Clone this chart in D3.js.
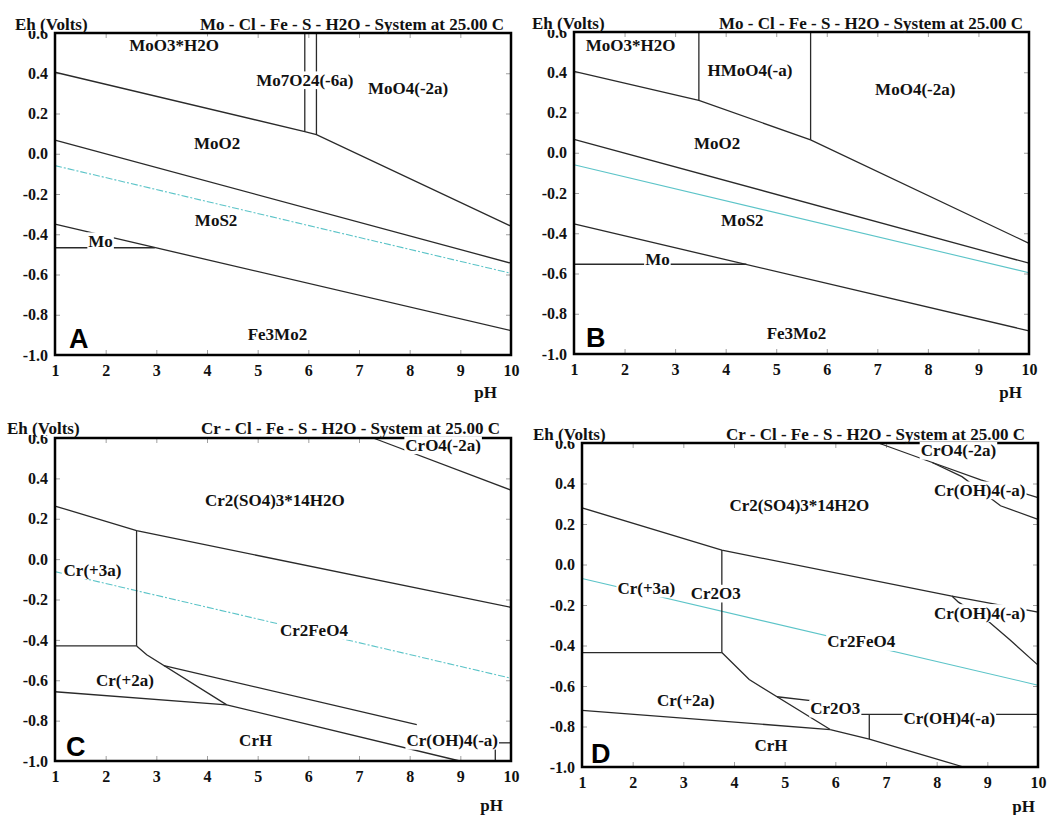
<!DOCTYPE html>
<html><head><meta charset="utf-8">
<script src="https://cdn.jsdelivr.net/npm/d3@7"></script>
<style>
html,body{margin:0;padding:0;background:#fff;}
svg{display:block;}
text{font-family:"Liberation Serif","Times New Roman",serif;font-weight:bold;fill:#111;}
</style></head><body>
<svg id="c" width="1049" height="815"></svg>
<script>
// ---------- shared axis values ----------
const pHTicks = [1,2,3,4,5,6,7,8,9,10];
const ehTicks = [0.6,0.4,0.2,0.0,-0.2,-0.4,-0.6,-0.8,-1.0];
const titleMo = "Mo - Cl - Fe - S - H2O - System at 25.00 C";
const titleCr = "Cr - Cl - Fe - S - H2O - System at 25.00 C";

// ---------- Panel A (Mo) ----------
const linesA = [
  [[1,0.405],[5.93,0.11],[6.16,0.095],[10,-0.36]],
  [[5.93,0.6],[5.93,0.11]],
  [[6.16,0.6],[6.16,0.095]],
  [[1,0.068],[10,-0.544]],
  [[1,-0.35],[10,-0.879]],
  [[1,-0.467],[2.97,-0.467]]
];
const waterA = [[1,-0.059],[10,-0.594]];
const labelsA = [
  ["MoO3*H2O",3.35,0.54],["Mo7O24(-6a)",5.93,0.366],["MoO4(-2a)",7.97,0.327],
  ["MoO2",4.2,0.05],["MoS2",4.18,-0.333],["Mo",1.9,-0.434],["Fe3Mo2",5.39,-0.896]
];

// ---------- Panel B (Mo) ----------
const linesB = [
  [[1,0.404],[3.47,0.26],[5.68,0.064],[10,-0.45]],
  [[3.47,0.6],[3.47,0.26]],
  [[5.68,0.6],[5.68,0.064]],
  [[1,0.067],[10,-0.549]],
  [[1,-0.354],[10,-0.885]],
  [[1,-0.554],[4.41,-0.554]]
];
const waterB = [[1,-0.06],[10,-0.596]];
const labelsB = [
  ["MoO3*H2O",2.12,0.532],["HMoO4(-a)",4.48,0.409],["MoO4(-2a)",7.75,0.316],
  ["MoO2",3.83,0.046],["MoS2",4.33,-0.337],["Mo",2.65,-0.528],["Fe3Mo2",5.40,-0.90]
];

// ---------- Panel C (Cr) ----------
const linesC = [
  [[7.28,0.6],[10,0.342]],
  [[1,0.263],[2.61,0.141],[10,-0.239]],
  [[2.61,0.141],[2.61,-0.43]],
  [[1,-0.43],[2.61,-0.43]],
  [[2.61,-0.43],[2.81,-0.474],[4.39,-0.722]],
  [[3.15,-0.527],[8.14,-0.82]],
  [[1,-0.657],[4.39,-0.722]],
  [[4.39,-0.722],[8.99,-1.0]],
  [[9.69,-0.91],[10,-0.91]],
  [[9.69,-0.91],[9.69,-1.0]]
];
const waterC = [[1,-0.062],[10,-0.59]];
const labelsC = [
  ["CrO4(-2a)",8.66,0.565],["Cr2(SO4)3*14H2O",5.34,0.293],["Cr(+3a)",1.74,-0.054],
  ["Cr2FeO4",6.11,-0.354],["Cr(+2a)",2.38,-0.602],["CrH",4.96,-0.896],["Cr(OH)4(-a)",8.84,-0.899]
];

// ---------- Panel D (Cr) ----------
const linesD = [
  [[6.85,0.6],[7.9,0.505]],
  [[7.9,0.505],[8.87,0.418],[10,0.33]],
  [[7.9,0.505],[8.5,0.434],[9.26,0.29],[10,0.223]],
  [[1,0.28],[3.76,0.071],[8.3,-0.156]],
  [[8.3,-0.156],[10,-0.235]],
  [[8.3,-0.156],[8.43,-0.186],[9.03,-0.283],[9.45,-0.373],[10,-0.497]],
  [[3.76,0.071],[3.76,-0.435]],
  [[1,-0.435],[3.76,-0.435]],
  [[3.76,-0.435],[4.30,-0.568],[5.90,-0.815]],
  [[4.85,-0.653],[5.6,-0.675]],
  [[6.45,-0.74],[10,-0.74]],
  [[6.67,-0.74],[6.67,-0.862]],
  [[1,-0.72],[5.90,-0.815]],
  [[5.90,-0.815],[6.67,-0.862],[8.53,-1.0]]
];
const waterD = [[1,-0.069],[10,-0.596]];
const labelsD = [
  ["CrO4(-2a)",8.43,0.562],["Cr(OH)4(-a)",8.85,0.367],["Cr2(SO4)3*14H2O",5.29,0.293],
  ["Cr(+3a)",2.27,-0.118],["Cr2O3",3.64,-0.143],["Cr(OH)4(-a)",8.85,-0.239],
  ["Cr2FeO4",6.51,-0.382],["Cr(+2a)",3.05,-0.67],["Cr2O3",6.0,-0.711],
  ["Cr(OH)4(-a)",8.25,-0.761],["CrH",4.73,-0.894]
];

const svg = d3.select("#c");

function panel(lay, title, letter, lines, water, dashed, labels){
  const g = svg.append("g");
  const x = d3.scaleLinear().domain([1,10]).range([lay.x0, lay.x1]);
  const y = d3.scaleLinear().domain([-1,0.6]).range([lay.y1, lay.y0]);
  const fmtEh = d => d.toFixed(1);
  const style = (sel, fs) => {
    sel.select(".domain").remove();
    sel.selectAll(".tick line").attr("stroke","#a0a0a0").attr("stroke-width",1);
    sel.attr("font-size", fs);
  };
  g.append("g").attr("transform",`translate(${lay.x0},0)`)
    .call(d3.axisLeft(y).tickValues(ehTicks).tickSize(-5).tickPadding(7).tickFormat(fmtEh))
    .call(s=>style(s,16));
  g.append("g").attr("transform",`translate(${lay.x1},0)`)
    .call(d3.axisRight(y).tickValues(ehTicks).tickSize(-5).tickFormat(""))
    .call(s=>style(s,16));
  g.append("g").attr("transform",`translate(0,${lay.y1})`)
    .call(d3.axisBottom(x).tickValues(pHTicks).tickSize(-5).tickPadding(10).tickFormat(d3.format("d")))
    .call(s=>style(s,16));
  g.append("g").attr("transform",`translate(0,${lay.y0})`)
    .call(d3.axisTop(x).tickValues(pHTicks).tickSize(-5).tickFormat(""))
    .call(s=>style(s,16));

  const line = d3.line().x(d=>x(d[0])).y(d=>y(d[1]));
  g.append("path").datum(water).attr("d",line).attr("fill","none")
    .attr("stroke","#5cc4c8").attr("stroke-width",1.1)
    .attr("stroke-dasharray", dashed ? "7,2,2,2" : null);
  g.selectAll("path.bd").data(lines).join("path").attr("class","bd")
    .attr("d",line).attr("fill","none").attr("stroke","#2a2a2a").attr("stroke-width",1.3);

  g.append("rect").attr("x",lay.x0).attr("y",lay.y0)
    .attr("width",lay.x1-lay.x0).attr("height",lay.y1-lay.y0)
    .attr("fill","none").attr("stroke","#000").attr("stroke-width",2.5);

  const fs = 17;
  labels.forEach(([t,p,e])=>{
    const bx = x(p), by = y(e) + fs*0.33;
    const tx = g.append("text").attr("x",bx).attr("y",by).attr("text-anchor","middle")
      .attr("font-size",fs).text(t);
    const bb = tx.node().getBBox();
    g.insert("rect", () => tx.node())
      .attr("x",bb.x-1).attr("y",by-fs*0.84).attr("width",bb.width+2).attr("height",fs*1.04)
      .attr("fill","#fff");
  });

  // Eh label with white box (covers top of 0.6 tick label)
  const eh = g.append("text").attr("x",lay.ehX).attr("y",lay.base).attr("font-size",17).text("Eh (Volts)");
  const eb = eh.node().getBBox();
  g.insert("rect", () => eh.node()).attr("x",eb.x-1).attr("y",eb.y-1)
    .attr("width",eb.width+2).attr("height",lay.base+1-(eb.y-1)).attr("fill","#fff");

  g.append("text").attr("x",lay.titleR).attr("y",lay.base).attr("text-anchor","end")
    .attr("font-size",17).text(title);
  g.append("text").attr("x",lay.phR).attr("y",lay.phBase).attr("text-anchor","end")
    .attr("font-size",17).text("pH");
  g.append("text").attr("x",lay.lx).attr("y",lay.ly)
    .style("font-family","'Liberation Sans',Arial,sans-serif").style("fill","#000")
    .attr("font-size",27).text(letter);
}

panel({x0:55,x1:511,y0:33,y1:355,ehX:15,titleR:504,base:30,phR:497,phBase:398,lx:69,ly:348},
      titleMo,"A",linesA,waterA,true,labelsA);
panel({x0:574,x1:1029,y0:32,y1:354,ehX:532,titleR:1023,base:29,phR:1022,phBase:398,lx:586,ly:347},
      titleMo,"B",linesB,waterB,false,labelsB);
panel({x0:55,x1:511,y0:438,y1:761,ehX:7,titleR:500,base:434,phR:503,phBase:811,lx:66,ly:756},
      titleCr,"C",linesC,waterC,true,labelsC);
panel({x0:582,x1:1038,y0:443,y1:767,ehX:533,titleR:1025,base:440,phR:1035,phBase:812,lx:591,ly:763},
      titleCr,"D",linesD,waterD,false,labelsD);
</script>
</body></html>
